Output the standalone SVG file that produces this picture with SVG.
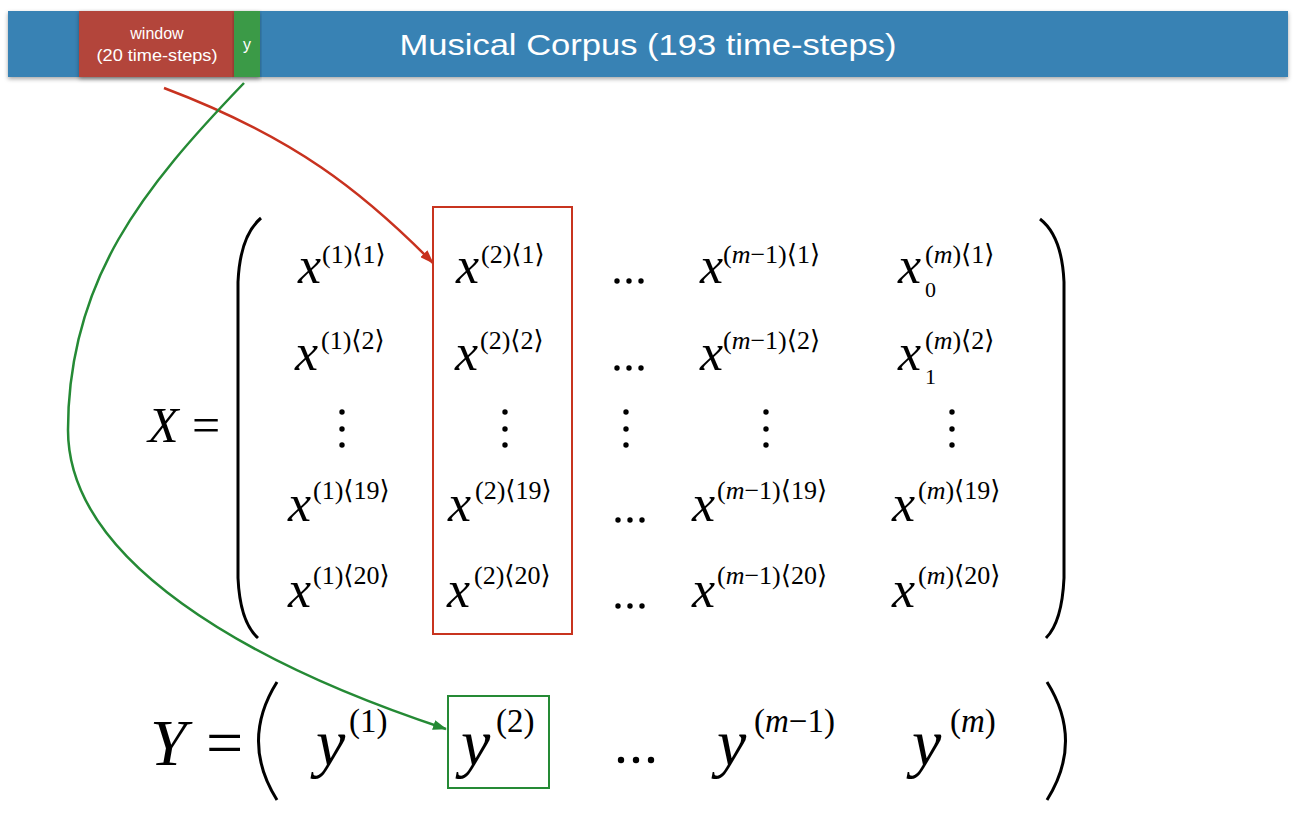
<svg xmlns="http://www.w3.org/2000/svg" width="1300" height="814" viewBox="0 0 1300 814">
<style>
.bar{font-family:"Liberation Sans",Arial,sans-serif;fill:#ffffff}
.m{font-family:"Liberation Serif","DejaVu Serif",serif;fill:#000}
.mi{font-style:italic}
.x{font-size:52px;font-style:italic}
.sup{font-size:26px}
.sub{font-size:22px}
.big{font-size:66px}
.ysup{font-size:33px}
.dot{fill:#000}
.paren{fill:none;stroke:#000;stroke-width:3}
</style>
<defs>
<filter id="sh" x="-5%" y="-20%" width="110%" height="160%">
<feDropShadow dx="0" dy="2" stdDeviation="2" flood-color="#000" flood-opacity="0.35"/>
</filter>
<marker id="ar" viewBox="0 0 14 10" refX="13" refY="5" markerWidth="14" markerHeight="10" markerUnits="userSpaceOnUse" orient="auto">
<path d="M0,0 L14,5 L0,10 Z" fill="#c8321f"/>
</marker>
<marker id="ag" viewBox="0 0 14 10" refX="13" refY="5" markerWidth="14" markerHeight="10" markerUnits="userSpaceOnUse" orient="auto">
<path d="M0,0 L14,5 L0,10 Z" fill="#258a35"/>
</marker>
</defs>
<rect width="1300" height="814" fill="#ffffff"/>

<g id="corpus">
<rect x="8" y="11" width="1280" height="66" fill="#3782b4" filter="url(#sh)"/>
<text class="bar" x="648" y="55" font-size="30" text-anchor="middle" textLength="497" lengthAdjust="spacingAndGlyphs">Musical Corpus (193 time-steps)</text>
</g>
<g id="window">
<rect x="79" y="11" width="155" height="66" fill="#b3453a" filter="url(#sh)"/>
<text class="bar" x="157" y="39" font-size="16" text-anchor="middle">window</text>
<text class="bar" x="157" y="61" font-size="17" text-anchor="middle" textLength="121" lengthAdjust="spacingAndGlyphs">(20 time-steps)</text>
</g>
<g id="ylabel">
<rect x="234" y="11" width="26" height="66" fill="#3b9a47" filter="url(#sh)"/>
<text class="bar" x="247" y="50" font-size="16" text-anchor="middle">y</text>
</g>

<g id="matrixX">
<text class="m" x="148" y="442" font-size="50"><tspan class="mi">X</tspan><tspan x="192">=</tspan></text>
<path class="paren" d="M261,218 Q240,236 238,282 L238,578 Q240,622 258,638"/>
<path class="paren" d="M1040,219 Q1062,236 1064,282 L1064,578 Q1062,622 1046,638"/>

<!-- row 1 -->
<text class="m x" x="298" y="283">x</text><text class="m sup" x="322" y="263">(1)⟨1⟩</text>
<text class="m x" x="456" y="283">x</text><text class="m sup" x="481" y="263">(2)⟨1⟩</text>
<text class="m x" x="700" y="283">x</text><text class="m sup" x="723" y="263">(<tspan class="mi">m</tspan>−1)⟨1⟩</text>
<text class="m x" x="898" y="283">x</text><text class="m sup" x="925" y="263">(<tspan class="mi">m</tspan>)⟨1⟩</text><text class="m sub" x="925" y="297">0</text>
<!-- row 2 -->
<text class="m x" x="295" y="370">x</text><text class="m sup" x="321" y="349">(1)⟨2⟩</text>
<text class="m x" x="455" y="370">x</text><text class="m sup" x="480" y="349">(2)⟨2⟩</text>
<text class="m x" x="700" y="370">x</text><text class="m sup" x="723" y="349">(<tspan class="mi">m</tspan>−1)⟨2⟩</text>
<text class="m x" x="898" y="370">x</text><text class="m sup" x="925" y="349">(<tspan class="mi">m</tspan>)⟨2⟩</text><text class="m sub" x="925" y="384">1</text>
<!-- row 4 -->
<text class="m x" x="288" y="521">x</text><text class="m sup" x="313" y="499">(1)⟨19⟩</text>
<text class="m x" x="448" y="521">x</text><text class="m sup" x="475" y="499">(2)⟨19⟩</text>
<text class="m x" x="692" y="521">x</text><text class="m sup" x="717" y="499">(<tspan class="mi">m</tspan>−1)⟨19⟩</text>
<text class="m x" x="892" y="521">x</text><text class="m sup" x="918" y="499">(<tspan class="mi">m</tspan>)⟨19⟩</text>
<!-- row 5 -->
<text class="m x" x="288" y="607">x</text><text class="m sup" x="313" y="584">(1)⟨20⟩</text>
<text class="m x" x="447" y="607">x</text><text class="m sup" x="474" y="584">(2)⟨20⟩</text>
<text class="m x" x="692" y="607">x</text><text class="m sup" x="717" y="584">(<tspan class="mi">m</tspan>−1)⟨20⟩</text>
<text class="m x" x="892" y="607">x</text><text class="m sup" x="918" y="584">(<tspan class="mi">m</tspan>)⟨20⟩</text>

<!-- horizontal dots -->
<g class="dot">
<circle cx="617" cy="281" r="2.7"/><circle cx="629" cy="281" r="2.7"/><circle cx="641" cy="281" r="2.7"/>
<circle cx="617" cy="368" r="2.7"/><circle cx="629" cy="368" r="2.7"/><circle cx="641" cy="368" r="2.7"/>
<circle cx="618" cy="520" r="2.7"/><circle cx="630" cy="520" r="2.7"/><circle cx="642" cy="520" r="2.7"/>
<circle cx="618" cy="606" r="2.7"/><circle cx="630" cy="606" r="2.7"/><circle cx="642" cy="606" r="2.7"/>
</g>
<!-- vertical dots -->
<g class="dot">
<circle cx="342" cy="412" r="2.7"/><circle cx="342" cy="429" r="2.7"/><circle cx="342" cy="445" r="2.7"/>
<circle cx="505" cy="412" r="2.7"/><circle cx="505" cy="429" r="2.7"/><circle cx="505" cy="445" r="2.7"/>
<circle cx="626" cy="412" r="2.7"/><circle cx="626" cy="429" r="2.7"/><circle cx="626" cy="445" r="2.7"/>
<circle cx="766" cy="412" r="2.7"/><circle cx="766" cy="429" r="2.7"/><circle cx="766" cy="445" r="2.7"/>
<circle cx="952" cy="412" r="2.7"/><circle cx="952" cy="429" r="2.7"/><circle cx="952" cy="445" r="2.7"/>
</g>
</g>

<g id="columnBox">
<rect x="433" y="207" width="139" height="427" fill="none" stroke="#c8341f" stroke-width="2"/>
</g>

<g id="vectorY">
<text class="m big" x="150" y="765"><tspan class="mi">Y</tspan><tspan x="206">=</tspan></text>
<path class="paren" d="M277,682 Q240,741 277,800"/>
<path class="paren" d="M1047,682 Q1084,741 1047,800"/>
<text class="m big mi" x="316" y="765">y</text><text class="m ysup" x="349" y="732">(1)</text>
<text class="m big mi" x="461" y="765">y</text><text class="m ysup" x="496" y="732">(2)</text>
<text class="m big mi" x="717" y="765">y</text><text class="m ysup" x="754" y="732">(<tspan class="mi">m</tspan>−1)</text>
<text class="m big mi" x="912" y="765">y</text><text class="m ysup" x="950" y="732">(<tspan class="mi">m</tspan>)</text>
<g class="dot">
<circle cx="621" cy="760" r="3.2"/><circle cx="636" cy="760" r="3.2"/><circle cx="651" cy="760" r="3.2"/>
</g>
</g>

<g id="targetBox">
<rect x="448" y="696" width="101" height="92" fill="none" stroke="#258a35" stroke-width="2"/>
</g>

<g id="connectors" fill="none" stroke-width="2.5">
<path d="M164,88 C294,137 363,192 433,263" stroke="#c8321f" marker-end="url(#ar)"/>
<path d="M244,83 C144,187 68,280 68,430 C68,560 246,663 446,729" stroke="#258a35" marker-end="url(#ag)"/>
</g>
</svg>
